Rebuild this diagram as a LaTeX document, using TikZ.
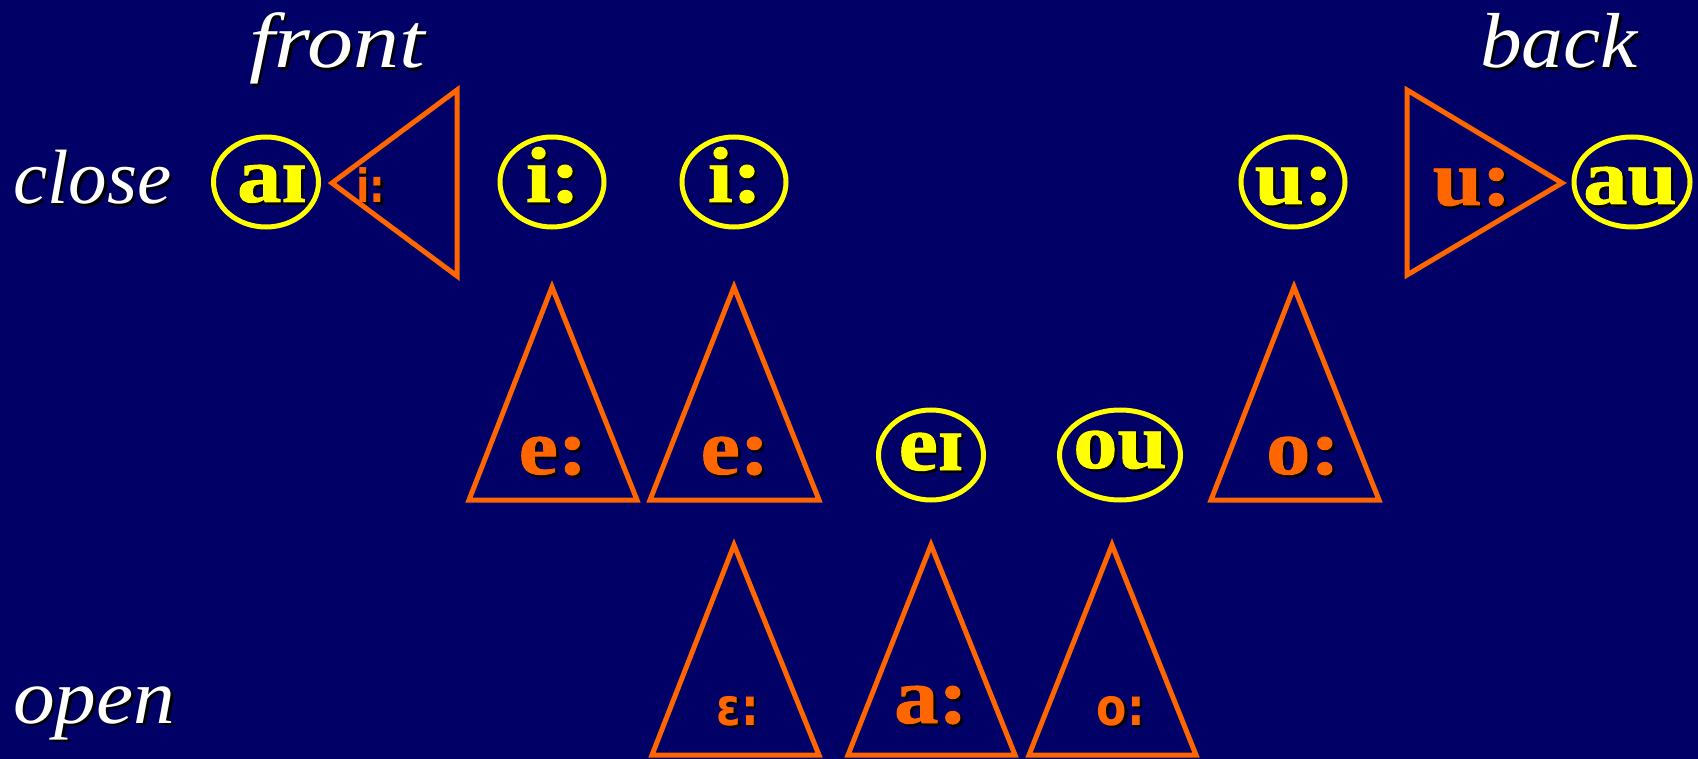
\documentclass[tikz,border=0pt]{standalone}
\usepackage{fontspec}
\setmainfont{Liberation Serif}
\newfontfamily\bigf{Liberation Serif}[FakeBold=1.2, FakeStretch=1.12]
\newfontfamily\labf{Liberation Serif}[FakeStretch=1.07]
\newfontfamily\labw{Liberation Serif}[FakeStretch=1.18]
\newfontfamily\smf{DejaVu Sans}[FakeStretch=0.85]
\usetikzlibrary{shapes.geometric}
\definecolor{bg}{RGB}{0,0,102}
\definecolor{vyel}{RGB}{255,255,0}
\definecolor{vora}{RGB}{255,102,0}
\newcommand\shd[1]{\makebox[0pt][l]{\kern2.5pt\raisebox{-2.5pt}{\color{black}#1}}#1}
\begin{document}
\begin{tikzpicture}[x=1pt,y=-1pt,
  lab/.style={anchor=base, text=white, font=\fontsize{78}{80}\labf\itshape, inner sep=0pt},
  big/.style={anchor=base, font=\fontsize{79}{80}\bigf\bfseries, inner sep=0pt},
  small/.style={anchor=base, font=\fontsize{52}{54}\smf\bfseries, inner sep=0pt, text=vora},
  ell/.style={draw=vyel, line width=5pt, ellipse, inner sep=0pt, minimum width=#1, minimum height=90pt},
  ell/.default=104pt,
  tri/.style={draw=vora, line width=5pt, line join=miter}]
\useasboundingbox (0,0) rectangle (1698,759);
\fill[bg] (0,0) rectangle (1698,759);

% axis labels
\node[lab, font=\fontsize{78}{80}\labw\itshape] (front) at (337,68) {\shd{front}};
\node[lab] (back) at (1559,68) {\shd{back}};
\node[lab, anchor=base west, font=\fontsize{77}{80}\selectfont\itshape] (close) at (13,204) {\shd{close}};
\node[lab, anchor=base west] (open) at (13,723) {\shd{open}};

% ellipses
\node[ell=105pt] (eai) at (266,182) {};
\node[ell] (ei1) at (552,182) {};
\node[ell] (ei2) at (734,182) {};
\node[ell] (eu) at (1293,182) {};
\node[ell=116pt] (eau) at (1632,182) {};
\node[ell=105pt] (eei) at (931,455) {};
\node[ell=121pt] (eou) at (1120,455) {};

% yellow texts
\node[big, text=vyel] (tai) at (272,202) {\shd{aɪ}};
\node[big, text=vyel] (ti1) at (553,202) {\shd{i:}};
\node[big, text=vyel] (ti2) at (735,202) {\shd{i:}};
\node[big, text=vyel] (tu) at (1294,204) {\shd{u:}};
\node[big, text=vyel] (tau) at (1630,204) {\shd{au}};
\node[big, text=vyel] (tei) at (931,470) {\shd{eɪ}};
\node[big, text=vyel] (tou) at (1120,468) {\shd{ou}};

% orange texts
\node[small, font=\fontsize{46}{48}\smf\bfseries] (tli) at (371,203) {\shd{i:}};
\node[big, text=vora] (tru) at (1472,205) {\shd{u:}};
\node[big, text=vora] (te1) at (553,474) {\shd{e:}};
\node[big, text=vora] (te2) at (735,474) {\shd{e:}};
\node[big, text=vora] (to) at (1303,474) {\shd{o:}};
\node[small] (teps) at (738,725) {\shd{ɛ:}};
\node[big, text=vora] (ta) at (931,723) {\shd{a:}};
\node[small] (too) at (1121,725) {\shd{o:}};

% triangles
\draw[tri] (332,183) -- (457,90) -- (457,276) -- cycle;
\draw[tri] (1407,90) -- (1562,183) -- (1407,275) -- cycle;
\draw[tri] (552,287) -- (637,500) -- (469,500) -- cycle;
\draw[tri] (734,287) -- (819,500) -- (650,500) -- cycle;
\draw[tri] (1294,287) -- (1379,500) -- (1211,500) -- cycle;
\draw[tri] (734,545) -- (819,755) -- (652,755) -- cycle;
\draw[tri] (931,545) -- (1015,755) -- (848,755) -- cycle;
\draw[tri] (1112,545) -- (1196,755) -- (1029,755) -- cycle;
\end{tikzpicture}
\end{document}
